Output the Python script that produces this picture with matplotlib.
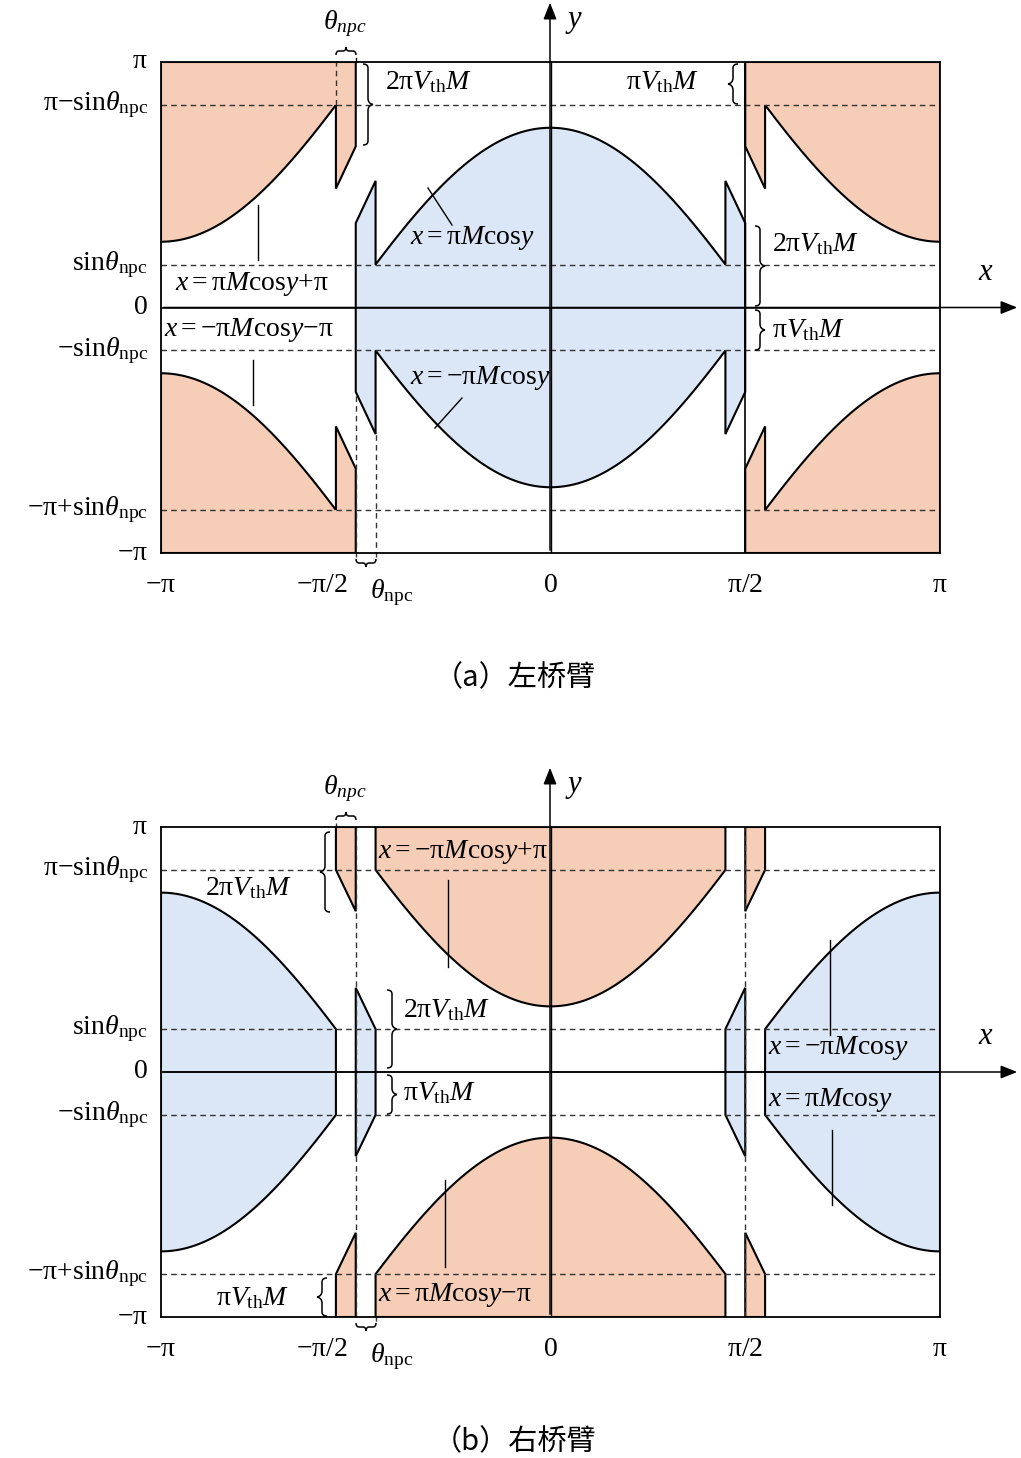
import numpy as np
import matplotlib
matplotlib.use("Agg")
import matplotlib.pyplot as plt
from matplotlib.patches import Polygon, FancyArrowPatch, PathPatch
from matplotlib.path import Path

plt.rcParams['mathtext.fontset'] = 'custom'
plt.rcParams['mathtext.rm'] = 'Liberation Serif'
plt.rcParams['mathtext.it'] = 'Liberation Serif:italic'
plt.rcParams['font.family'] = ['Liberation Serif', 'DejaVu Serif']

PI = np.pi
p = r"\mathrm{π}"
# values (radians)
sin_npc = 0.55        # sin(theta_npc)
piVthM = 0.54         # pi*V_th*M
theta_npc = 0.16      # theta_npc width
peak = 2.30           # height of central arch at x=0
ytick_vals = [PI, PI - sin_npc, sin_npc, 0, -sin_npc, -PI + sin_npc, -PI]
ytick_labels = [rf"${p}$", rf"${p}\mathrm{{-sin}}\theta_{{\rm npc}}$", r"$\mathrm{sin}\theta_{\rm npc}$",
                r"$0$", r"$\mathrm{-sin}\theta_{\rm npc}$", rf"$\mathrm{{-}}{p}\mathrm{{+sin}}\theta_{{\rm npc}}$",
                rf"$\mathrm{{-}}{p}$"]
xtick_vals = [-PI, -PI / 2, 0, PI / 2, PI]
xtick_labels = [rf"$\mathrm{{-}}{p}$", rf"$\mathrm{{-}}{p}/2$", r"$0$", rf"${p}/2$", rf"${p}$"]
xtick_px = [161, 322, 550, 745, 940]
captions = ["（a）左桥臂", "（b）右桥臂"]

BLUE = "#dbe6f6"
ORANGE = "#f6cdb6"
W, H = 1021, 1458
s, v, th = sin_npc, piVthM, theta_npc
h = PI / 2 - th
k = np.arccos(s / peak) / h


def f(x):
    return peak * np.cos(k * x)


fig = plt.figure(figsize=(W / 100, H / 100), dpi=100)

panels = [(62, 553), (827, 1317)]
L, R = 161, 940


def P(x, y):
    return (x / W, 1 - y / H)


def ftext(x, y, t, **kw):
    kw.setdefault('fontsize', 20)
    fig.text(x / W, 1 - y / H, t, **kw)


def brace(x, y0, y1, direction, width=10):
    ym = (y0 + y1) / 2
    d = direction * width
    x0 = x
    verts = [(x0, y0), (x0 + d * 0.5, y0), (x0 + d * 0.5, y0 + 4), (x0 + d * 0.5, ym - 6),
             (x0 + d * 0.5, ym - 1), (x0 + d, ym), (x0 + d, ym),
             (x0 + d * 0.5, ym + 1), (x0 + d * 0.5, ym + 6), (x0 + d * 0.5, y1 - 4),
             (x0 + d * 0.5, y1), (x0, y1), (x0, y1)]
    codes = [Path.MOVETO, Path.CURVE3, Path.CURVE3, Path.LINETO, Path.CURVE3, Path.CURVE3, Path.MOVETO,
             Path.CURVE3, Path.CURVE3, Path.LINETO, Path.CURVE3, Path.CURVE3, Path.MOVETO]
    verts = [(a / W, 1 - b / H) for a, b in verts]
    fig.add_artist(PathPatch(Path(verts, codes), fill=False, lw=1.1, color='k',
                             transform=fig.transFigure))


def hbrace(x0, x1, y, direction):
    xm = (x0 + x1) / 2
    d = direction * 8
    verts = [(x0, y), (x0, y + d * 0.5), (x0 + 3, y + d * 0.5), (xm - 3, y + d * 0.5),
             (xm, y + d * 0.5), (xm, y + d), (xm, y + d),
             (xm, y + d * 0.5), (xm + 3, y + d * 0.5), (x1 - 3, y + d * 0.5),
             (x1, y + d * 0.5), (x1, y), (x1, y)]
    codes = [Path.MOVETO, Path.CURVE3, Path.CURVE3, Path.LINETO, Path.CURVE3, Path.CURVE3, Path.MOVETO,
             Path.CURVE3, Path.CURVE3, Path.LINETO, Path.CURVE3, Path.CURVE3, Path.MOVETO]
    verts = [(a / W, 1 - b / H) for a, b in verts]
    fig.add_artist(PathPatch(Path(verts, codes), fill=False, lw=1.1, color='k',
                             transform=fig.transFigure))


def poly(ax, pts, color):
    ax.add_patch(Polygon(pts, closed=True, facecolor=color, edgecolor='k', lw=1.5, zorder=2))


axes = []
for (top, bot) in panels:
    ax = fig.add_axes([L / W, 1 - bot / H, (R - L) / W, (bot - top) / H])
    ax.set_xlim(-PI, PI)
    ax.set_ylim(-PI, PI)
    ax.set_xticks([]); ax.set_yticks([])
    for sp in ax.spines.values():
        sp.set_linewidth(1.3)
        sp.set_zorder(5)
    axes.append(ax)
    for yv in [s, -s, PI - s, -PI + s]:
        ax.axhline(yv, color='#333333', lw=1.0, ls=(0, (4, 3)), zorder=3)
    ax.axhline(0, color='k', lw=1.1, zorder=4)
    ax.axvline(0, color='k', lw=1.0, zorder=4)

# ---------------- panel (a)
ax = axes[0]
xs = np.linspace(-h, h, 200)
blue = ([(-PI / 2, 2 * v), (-h, 3 * v), (-h, s)] + list(zip(xs, f(xs))) +
        [(h, 3 * v), (PI / 2, 2 * v), (PI / 2, -2 * v), (h, -3 * v), (h, -s)] +
        list(zip(xs[::-1], -f(xs[::-1]))) + [(-h, -3 * v), (-PI / 2, -2 * v)])
poly(ax, blue, BLUE)
xc = np.linspace(-PI / 2 - th, -PI, 150)
base = ([(-PI, PI), (-PI / 2, PI), (-PI / 2, PI - 2 * v), (-PI / 2 - th, PI - 3 * v),
         (-PI / 2 - th, PI - s)] + list(zip(xc, PI - f(xc + PI))))
for sx in (1, -1):
    for sy in (1, -1):
        poly(ax, [(sx * a, sy * b) for a, b in base], ORANGE)
dash = dict(color='#333333', lw=1.0, ls=(0, (4, 3)), zorder=3, clip_on=False)
ax.plot([-PI / 2, -PI / 2], [-PI - 0.05, -2 * v], **dash)
ax.plot([-h, -h], [-PI - 0.05, -3 * v], **dash)
ax.plot([-PI / 2 - th, -PI / 2 - th], [PI - s, PI + 0.05], **dash)
ax.plot([-PI / 2, -PI / 2], [PI, PI + 0.05], color='k', lw=1.0, clip_on=False)
ax.plot([PI / 2, PI / 2], [-PI, PI], color='k', lw=1.2, zorder=4)

# ---------------- panel (b)
ax = axes[1]
xl = np.linspace(-PI, -PI / 2 - th, 150)
blue_side = list(zip(xl, f(xl + PI))) + list(zip(xl[::-1], -f(xl[::-1] + PI)))
strip_b = [(-PI / 2, 2 * v), (-h, s), (-h, -s), (-PI / 2, -2 * v)]
for sx in (1, -1):
    poly(ax, [(sx * a, b) for a, b in blue_side], BLUE)
    poly(ax, [(sx * a, b) for a, b in strip_b], BLUE)
center = [(-h, PI), (-h, PI - s)] + list(zip(xs, PI - f(xs))) + [(h, PI)]
ostrip = [(-PI / 2 - th, PI), (-PI / 2 - th, PI - s), (-PI / 2, PI - 2 * v), (-PI / 2, PI)]
for sy in (1, -1):
    poly(ax, [(a, sy * b) for a, b in center], ORANGE)
    for sx in (1, -1):
        poly(ax, [(sx * a, sy * b) for a, b in ostrip], ORANGE)
for xv in (-PI / 2, PI / 2):
    ax.plot([xv, xv], [-PI, PI], **dash)
ax.plot([-h, -h], [-PI - 0.05, -PI], **dash)
ax.plot([-PI / 2 - th, -PI / 2 - th], [PI, PI + 0.05], **dash)

# ---------------- axes arrows, ticks
for i, (top, bot) in enumerate(panels):
    y0 = (top + bot) / 2
    fig.add_artist(FancyArrowPatch(P(L, y0), P(1020, y0), transform=fig.transFigure,
                                   arrowstyle='-|>,head_length=10,head_width=4', color='k', lw=1.1))
    fig.add_artist(FancyArrowPatch(P(550, bot), P(550, top - 62), transform=fig.transFigure,
                                   arrowstyle='-|>,head_length=10,head_width=4', color='k', lw=1.1))
    ftext(978, y0 - 28, r"$x$", fontsize=22)
    ftext(565, top - 35, r"$y$", fontsize=22)
    for yv, lab in zip(ytick_vals, ytick_labels):
        py = top + (PI - yv) / (2 * PI) * (bot - top)
        ftext(148, py, lab, ha='right', va='center')
    for px, lab in zip(xtick_px, xtick_labels):
        ftext(px, bot + 33, lab, ha='center', va='center')
    ftext(392, bot + 40, r"$\theta_{\rm npc}$", ha='center', va='center')
    hbrace(356, 376, bot + 6, 1)
    ftext(345, top - 38, r"$\theta_{npc}$", ha='center', va='center')
    hbrace(336, 356, top - 7, -1)
    fig.text(515 / W, 1 - (bot + 125) / H, captions[i], fontsize=21, ha='center', va='center',
             family=['Noto Sans CJK SC', 'DejaVu Sans'])

# ---------------- annotations panel (a)
ftext(385, 82, rf"$2{p} V_{{\rm th}}M$", va='center')
brace(363, 64, 145, 1)
ftext(626, 82, rf"${p} V_{{\rm th}}M$", va='center')
brace(738, 64, 104, -1)
ftext(410, 238, rf"$x\mathrm{{=}}{p} M\mathrm{{cos}}y$", va='center')
ftext(772, 244, rf"$2{p} V_{{\rm th}}M$", va='center')
brace(755, 226, 306, 1)
ftext(772, 330, rf"${p} V_{{\rm th}}M$", va='center')
brace(755, 310, 350, 1)
ftext(175, 284, rf"$x\mathrm{{=}}{p} M\mathrm{{cos}}y\mathrm{{+}}{p}$", va='center')
ftext(164, 330, rf"$x\mathrm{{=-}}{p} M\mathrm{{cos}}y\mathrm{{-}}{p}$", va='center')
ftext(410, 378, rf"$x\mathrm{{=-}}{p} M\mathrm{{cos}}y$", va='center')
leaders = [((258, 205), (258, 260)), ((428, 188), (452, 225)), ((253, 360), (253, 405)),
           ((435, 428), (462, 398)),
           ((448, 880), (448, 967)), ((445, 1180), (445, 1267)), ((830, 940), (830, 1035)),
           ((832, 1130), (832, 1205))]
for (a, b) in leaders:
    fig.add_artist(plt.Line2D([a[0] / W, b[0] / W], [1 - a[1] / H, 1 - b[1] / H],
                              color='k', lw=1.0, transform=fig.transFigure))

# ---------------- annotations panel (b)
ftext(378, 852, rf"$x\mathrm{{=-}}{p} M\mathrm{{cos}}y\mathrm{{+}}{p}$", va='center')
ftext(205, 888, rf"$2{p} V_{{\rm th}}M$", va='center')
brace(330, 832, 912, -1)
ftext(403, 1010, rf"$2{p} V_{{\rm th}}M$", va='center')
brace(387, 990, 1068, 1)
ftext(403, 1093, rf"${p} V_{{\rm th}}M$", va='center')
brace(387, 1075, 1114, 1)
ftext(768, 1048, rf"$x\mathrm{{=-}}{p} M\mathrm{{cos}}y$", va='center')
ftext(768, 1100, rf"$x\mathrm{{=}}{p} M\mathrm{{cos}}y$", va='center')
ftext(216, 1298, rf"${p} V_{{\rm th}}M$", va='center')
brace(327, 1278, 1316, -1)
ftext(378, 1295, rf"$x\mathrm{{=}}{p} M\mathrm{{cos}}y\mathrm{{-}}{p}$", va='center')

fig.savefig("out.png", dpi=100)
